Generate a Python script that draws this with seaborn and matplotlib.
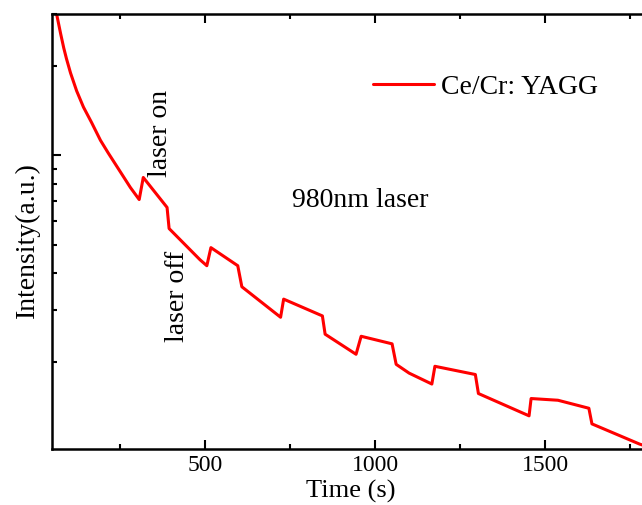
import numpy as np
import pandas as pd
import seaborn as sns
import matplotlib
matplotlib.use("Agg")
import matplotlib.pyplot as plt
from matplotlib.ticker import LogLocator, NullFormatter, FixedLocator

sns.set_style("ticks")
plt.rcParams['font.family'] = ['Liberation Serif', 'DejaVu Serif']
plt.rcParams['text.color'] = 'black'
plt.rcParams['axes.labelcolor'] = 'black'

# time (s) and intensity (a.u., log axis)
time = [60, 63, 75, 84, 92, 104, 122, 142, 166, 192, 215, 242, 262, 280,
        306, 318, 388, 394, 485, 505, 517, 596, 608, 722, 731, 845, 853, 944,
        959, 1050, 1062, 1100, 1167, 1176, 1295, 1304, 1453, 1459, 1538, 1629,
        1638, 1778, 1800]
intensity = [31.5, 30.0, 25.7, 23.05, 21.2, 18.97, 16.5, 14.55, 12.9, 11.24,
             10.18, 9.11, 8.39, 7.79, 7.09, 8.42, 6.67, 5.66, 4.44, 4.24, 4.88,
             4.24, 3.60, 2.84, 3.27, 2.87, 2.49, 2.13, 2.45, 2.31, 1.97, 1.84,
             1.69, 1.94, 1.82, 1.57, 1.32, 1.51, 1.49, 1.40, 1.24, 1.06, 1.04]
series_name = "Ce/Cr: YAGG"

df = pd.DataFrame({"time": time, "intensity": intensity})

W, H = 642, 505
fig = plt.figure(figsize=(W / 100, H / 100), dpi=100)
ax = fig.add_axes([51.5 / W, 1 - 449 / H, 595.5 / W, 435 / H])

sns.lineplot(data=df, x="time", y="intensity", color="red", linewidth=2.2,
             estimator=None, sort=False, label=series_name, ax=ax)

ax.set_yscale("log")
ax.set_xlim(48, 1800)
ax.set_ylim(1.02, 30)

ax.xaxis.set_major_locator(FixedLocator([500, 1000, 1500]))
ax.xaxis.set_minor_locator(FixedLocator([250, 750, 1250, 1750]))
ax.yaxis.set_major_locator(FixedLocator([10]))
ax.yaxis.set_minor_locator(LogLocator(base=10, subs=np.arange(2, 10)))
ax.yaxis.set_major_formatter(NullFormatter())
ax.yaxis.set_minor_formatter(NullFormatter())

ax.tick_params(which="both", direction="in", top=True, right=False,
               width=1.5, colors="black", labelcolor="black")
ax.tick_params(which="major", length=6.5, labelsize=17, pad=4)
ax.tick_params(which="minor", length=3.5)
for s in ax.spines.values():
    s.set_linewidth(1.8)
    s.set_color("black")

ax.set_xlabel("Time (s)", fontsize=19)
ax.xaxis.set_label_coords(0.503, -0.072)
ax.set_ylabel("Intensity(a.u.)", fontsize=20)
ax.yaxis.label.set(rotation_mode="default", va="center", ha="center")
ax.yaxis.set_label_coords(-0.041, 0.48)

leg = ax.legend(loc="center left", bbox_to_anchor=(373 / W, 1 - 87 / H),
                bbox_transform=fig.transFigure, frameon=False, fontsize=20,
                handlelength=2.2, handletextpad=0.25, borderpad=0,
                borderaxespad=0)
for t in leg.get_texts():
    t.set_color("black")

fig.text(161 / W, 1 - 133 / H, "laser on", rotation=90, fontsize=20,
         ha="center", va="center")
fig.text(178 / W, 1 - 296 / H, "laser off", rotation=90, fontsize=20,
         ha="center", va="center")
fig.text(360 / W, 1 - 207 / H, "980nm laser", fontsize=20,
         ha="center", va="baseline")

fig.savefig("out.png", dpi=100)
